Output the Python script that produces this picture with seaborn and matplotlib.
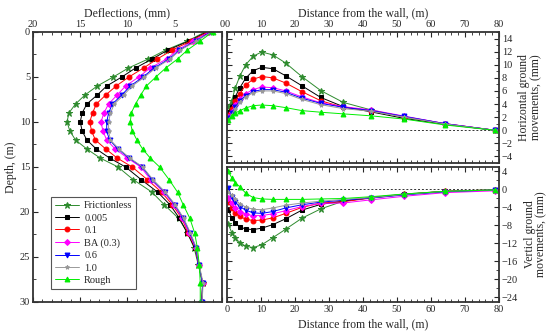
import numpy as np
import pandas as pd
import matplotlib
matplotlib.use('Agg')
import matplotlib.pyplot as plt
from matplotlib.ticker import MultipleLocator
import seaborn as sns

labels = ['Frictionless', '0.005', '0.1', 'BA (0.3)', '0.6', '1.0', 'Rough']
colors = ['#2e8b2e', '#000000', '#ff0000', '#ff00ff', '#0000ff', '#999999', '#00ee00']
markers = ['*', 's', 'o', 'D', 'v', '*', '^']
msizes = [4.5, 3.5, 3.5, 3, 3.5, 3, 3.5]

# wall deflection profiles
depth = [0, 1, 2, 3, 4, 5, 6, 7, 8, 9, 10, 11, 12, 13, 14, 15,
         16.4, 17.8, 19.2, 20.7, 22.3, 24.0, 25.9, 27.9, 30]
defl_fric = [1.8, 3.65, 5.95, 7.8, 9.9, 11.5, 13.2, 14.5, 15.5, 16.2, 16.4, 16.1, 15.5, 14.3, 12.9, 11.0,
             9.4, 7.4, 6.1, 4.6, 3.65, 2.95, 2.5, 2.05, 2.2]
defl_0005 = [1.6, 3.5, 5.7, 7.4, 9.15, 10.6, 12.2, 13.2, 14.3, 14.8, 15.0, 14.8, 14.3, 13.3, 11.9, 10.2,
             8.55, 6.8, 5.5, 4.5, 3.7, 2.85, 2.45, 2.05, 2.1]
defl_01 = [1.5, 3.3, 5.25, 6.85, 8.3, 9.85, 11.2, 12.3, 13.3, 13.7, 14.0, 13.8, 13.4, 12.3, 11.1, 9.5,
           7.9, 6.4, 5.25, 4.25, 3.6, 2.8, 2.45, 2.05, 2.1]
defl_ba = [1.35, 3.1, 4.7, 5.85, 7.6, 8.8, 10.2, 11.1, 12.0, 12.5, 12.8, 12.6, 12.2, 11.3, 10.0, 8.6,
           7.55, 6.15, 5.1, 4.2, 3.5, 2.8, 2.45, 2.05, 2.1]
defl_06 = [1.2, 2.8, 4.5, 5.6, 7.2, 8.35, 9.7, 10.6, 11.6, 12.0, 12.2, 12.2, 11.9, 11.0, 9.85, 8.45,
           7.4, 6.05, 5.0, 4.1, 3.4, 2.75, 2.45, 2.05, 2.1]
defl_10 = [1.1, 2.7, 4.4, 5.5, 7.0, 8.2, 9.5, 10.4, 11.4, 11.8, 12.0, 12.0, 11.8, 10.9, 9.75, 8.4,
           7.3, 6.0, 4.95, 4.05, 3.35, 2.7, 2.4, 2.0, 2.1]
defl_rough = [1.0, 2.3, 3.65, 4.7, 5.95, 7.0, 8.0, 8.6, 9.15, 9.6, 9.7, 9.5, 9.0, 8.4, 7.6, 6.6,
              5.6, 4.7, 4.1, 3.4, 2.9, 2.6, 2.4, 2.3, 2.3]

# ground movements behind the wall
dist = [0.4, 1.4, 2.4, 3.8, 5.5, 7.7, 10.2, 13.5, 17.3, 22.0, 27.6, 34.2, 42.4, 52.2, 64.2, 78.8]
hor_fric = [3.6, 4.5, 6.4, 8.3, 10.0, 11.3, 11.95, 11.5, 10.25, 8.2, 6.05, 4.25, 3.1, 2.0, 0.95, 0]
hor_0005 = [2.8, 3.6, 5.1, 6.5, 7.95, 9.1, 9.6, 9.4, 8.3, 6.8, 5.0, 3.6, 2.8, 1.8, 0.9, 0]
hor_01 = [2.3, 3.2, 4.4, 5.6, 6.9, 7.8, 8.2, 8.0, 7.2, 5.9, 4.5, 3.5, 3.0, 2.05, 1.0, 0]
hor_ba = [2.0, 2.8, 3.8, 4.8, 5.6, 6.2, 6.6, 6.5, 6.0, 5.1, 4.2, 3.6, 3.1, 2.15, 1.0, 0]
hor_06 = [1.8, 2.6, 3.5, 4.5, 5.3, 5.9, 6.2, 6.2, 5.8, 4.9, 4.1, 3.5, 3.0, 2.1, 1.0, 0]
hor_10 = [1.6, 2.4, 3.3, 4.3, 5.1, 5.7, 6.0, 6.0, 5.6, 4.7, 3.9, 3.3, 2.9, 2.0, 0.95, 0]
hor_rough = [1.5, 2.2, 2.6, 3.0, 3.4, 3.75, 3.85, 3.75, 3.45, 3.0, 2.75, 2.5, 2.2, 1.7, 0.8, 0]

ver_fric = [-7.7, -9.6, -10.8, -11.8, -12.6, -12.9, -12.3, -10.7, -8.8, -6.4, -4.3, -2.6, -1.8, -1.0, -0.4, -0.1]
ver_0005 = [-4.5, -6.3, -7.5, -8.3, -8.8, -8.9, -8.6, -7.8, -6.5, -4.6, -3.3, -2.6, -1.8, -1.1, -0.4, -0.1]
ver_01 = [-2.7, -4.1, -5.2, -6.0, -6.6, -6.9, -6.8, -6.3, -5.3, -4.0, -3.0, -2.7, -1.9, -1.1, -0.4, -0.1]
ver_ba = [-1.9, -3.1, -4.1, -4.9, -5.5, -5.8, -5.8, -5.4, -4.7, -3.8, -3.1, -3.0, -2.3, -1.5, -0.7, -0.3]
ver_06 = [0.3, -1.6, -2.8, -3.8, -4.6, -5.2, -5.3, -4.9, -4.1, -3.4, -2.8, -2.4, -1.9, -1.2, -0.5, -0.1]
ver_10 = [-0.6, -1.3, -2.2, -3.2, -3.9, -4.4, -4.5, -4.1, -3.5, -3.0, -2.6, -2.2, -1.8, -1.1, -0.4, -0.1]
ver_rough = [4.0, 2.6, 1.5, 0.6, -0.8, -1.8, -2.1, -2.2, -2.2, -2.2, -2.1, -2.0, -1.6, -1.0, -0.4, -0.1]

defl = [defl_fric, defl_0005, defl_01, defl_ba, defl_06, defl_10, defl_rough]
hor = [hor_fric, hor_0005, hor_01, hor_ba, hor_06, hor_10, hor_rough]
ver = [ver_fric, ver_0005, ver_01, ver_ba, ver_06, ver_10, ver_rough]

sns.set_style('ticks')
plt.rcParams['font.family'] = ['Liberation Serif', 'DejaVu Serif']
plt.rcParams['font.size'] = 8
plt.rcParams['axes.linewidth'] = 1.3
plt.rcParams['axes.edgecolor'] = '#333333'

fig = plt.figure(figsize=(5.5, 3.36), dpi=100)
ax_d = fig.add_axes([0.06, 0.1012, 0.3436, 0.8036])
ax_h = fig.add_axes([0.4127, 0.5149, 0.4945, 0.3899])
ax_v = fig.add_axes([0.4127, 0.1012, 0.4945, 0.4018])

for i in range(len(labels)):
    kw = dict(color=colors[i], marker=markers[i], markersize=msizes[i], markeredgecolor=colors[i],
              linewidth=0.7, estimator=None, sort=False)
    sns.lineplot(x=defl[i], y=depth, ax=ax_d, label=labels[i], orient='y', **kw)
    sns.lineplot(x=dist, y=hor[i], ax=ax_h, legend=False, **kw)
    sns.lineplot(x=dist, y=ver[i], ax=ax_v, legend=False, **kw)

# deflection panel
ax_d.set_xlim(20, 0)
ax_d.set_ylim(30, 0)
ax_d.xaxis.set_major_locator(MultipleLocator(5))
ax_d.xaxis.set_minor_locator(MultipleLocator(1))
ax_d.yaxis.set_major_locator(MultipleLocator(5))
ax_d.yaxis.set_minor_locator(MultipleLocator(2.5))
ax_d.xaxis.set_label_position('top')
ax_d.set_xlabel('Deflections, (mm)', fontsize=8.5, labelpad=3)
ax_d.set_ylabel('Depth, (m)', fontsize=8.5, labelpad=2)
ax_d.tick_params(which='both', direction='in', top=True, bottom=True, right=False,
                 labeltop=True, labelbottom=False, labelsize=7.5, pad=2)
ax_d.tick_params(which='major', length=3.5)
ax_d.tick_params(which='minor', length=2)
leg = ax_d.legend(loc='lower left', bbox_to_anchor=(0.07, 0.03), fontsize=7.5, frameon=True,
                  fancybox=False, edgecolor='#555555', framealpha=1, handlelength=2.3,
                  borderpad=0.35, labelspacing=0.3, handletextpad=0.5)
leg.get_frame().set_linewidth(0.8)

# ground movement panels
for ax in (ax_h, ax_v):
    ax.set_xlim(0, 80)
    ax.axhline(0, color='#333333', linestyle=(0, (2, 2)), linewidth=0.7, zorder=0)
    ax.xaxis.set_major_locator(MultipleLocator(10))
    ax.xaxis.set_minor_locator(MultipleLocator(2))
    ax.yaxis.set_label_position('right')
    ax.tick_params(which='both', direction='in', top=True, bottom=True, left=True, right=True,
                   labelleft=False, labelright=True, labelsize=7.5, pad=2)
    ax.tick_params(which='major', length=3.5)
    ax.tick_params(which='minor', length=2)

ax_h.set_ylim(-5, 15)
ax_h.yaxis.set_major_locator(MultipleLocator(2))
ax_h.yaxis.set_minor_locator(MultipleLocator(1))
ax_h.xaxis.set_label_position('top')
ax_h.tick_params(axis='x', labeltop=True, labelbottom=False)
ax_h.set_xlabel('Distance from the wall, (m)', fontsize=8.5, labelpad=3)
ax_h.set_ylabel('Horizontal ground\nmovements, (mm)', fontsize=8.5, labelpad=4, linespacing=1.0)

ax_v.set_ylim(-25, 5)
ax_v.yaxis.set_major_locator(MultipleLocator(4))
ax_v.yaxis.set_minor_locator(MultipleLocator(2))
ax_v.tick_params(axis='x', labeltop=False, labelbottom=True)
ax_v.set_xlabel('Distance from the wall, (m)', fontsize=8.5, labelpad=3)
ax_v.set_ylabel('Verticl ground\nmovements, (mm)', fontsize=8.5, labelpad=4, linespacing=1.0)

fig.savefig('out.png', dpi=100)
